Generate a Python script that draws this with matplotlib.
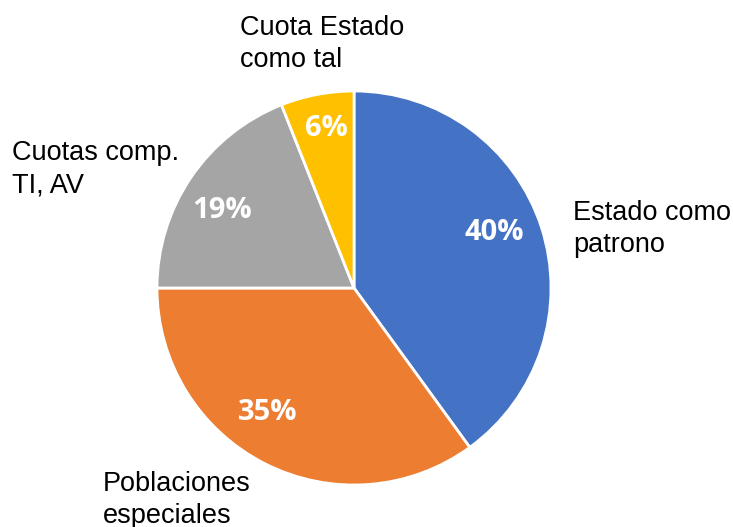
import matplotlib
matplotlib.use("Agg")
import matplotlib.pyplot as plt

# datos del grafico
categorias = ["Estado como\npatrono", "Poblaciones\nespeciales", "Cuotas comp.\nTI, AV", "Cuota Estado\ncomo tal"]
valores = [40, 35, 19, 6]
colores = ["#4472C4", "#ED7D31", "#A5A5A5", "#FFC000"]

W, H = 733, 527
fig = plt.figure(figsize=(W / 100, H / 100), dpi=100)
ax = fig.add_axes([0, 0, 1, 1])

wedges, _, autotexts = ax.pie(
    valores, colors=colores, startangle=90, counterclock=False,
    center=(354, H - 288), radius=197, autopct="%1.0f%%", pctdistance=0.77,
    wedgeprops=dict(edgecolor="white", linewidth=2),
    textprops=dict(color="white", fontsize=21, fontweight="bold", family="Open Sans"),
    frame=True,
)
ax.axis("off")
ax.set_xlim(0, W)
ax.set_ylim(0, H)
ax.set_aspect("equal")

# ajuste fino de los porcentajes (centro en pixeles)
pos_pct = [(494, 232), (268, 413), (222, 211), (326, 128)]
for t, (x, y) in zip(autotexts, pos_pct):
    t.set_position((x, H - y))

# posiciones de las etiquetas (pixeles, esquina superior izquierda)
pos_etiquetas = [(573, 200), (103, 471), (12, 140), (240, 15)]
for txt, (x, y) in zip(categorias, pos_etiquetas):
    ax.text(x, H - y, txt, ha="left", va="top", fontsize=19.5,
            family="Liberation Sans", color="black", linespacing=1.32)

fig.savefig("out.png", dpi=100)
